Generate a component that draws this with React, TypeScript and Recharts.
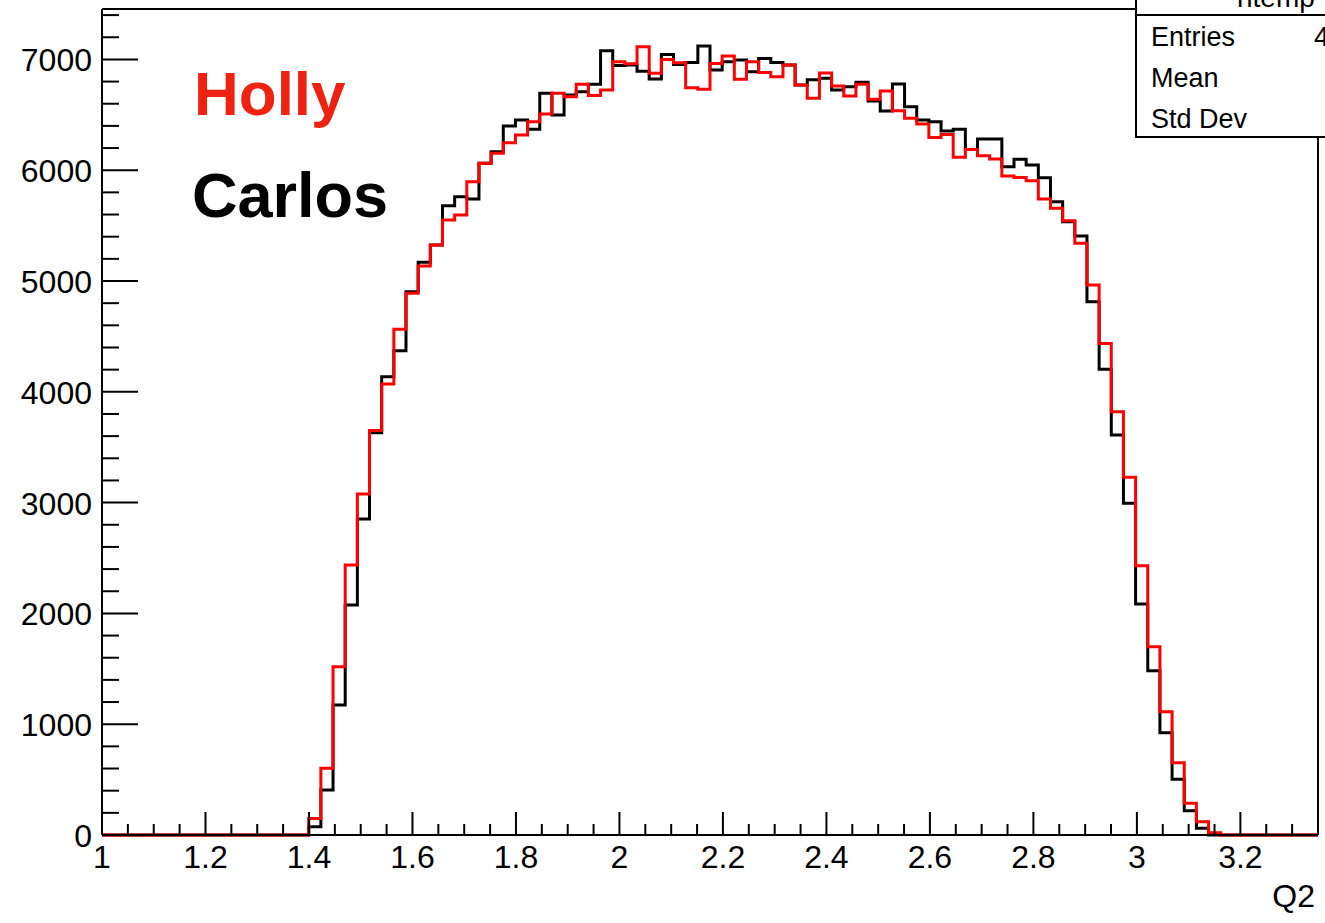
import { LineChart, Line, XAxis, YAxis, ReferenceLine } from "recharts";

// histogram binning (ROOT style: 100 bins over the x range)
const X_MIN = 1;
const X_MAX = 3.35;
const N_BINS = 100;
const Y_MAX = 7455;

// bin contents
const HOLLY = [
  0, 0, 0, 0, 0, 0, 0, 0, 0, 0, 0, 0, 0, 0, 0, 0, 0,
  150, 602, 1519, 2437, 3077, 3650, 4070, 4564, 4889, 5135, 5325,
  5550, 5595, 5896, 6062, 6152, 6248, 6317, 6437, 6507, 6694,
  6663, 6775, 6675, 6723, 6979, 6960, 7114, 6874, 7000, 6970,
  6744, 6730, 6964, 7030, 6820, 6979, 6883, 6844, 6949, 6768,
  6649, 6877, 6759, 6669, 6775, 6640, 6714, 6537, 6468, 6417,
  6296, 6323, 6116, 6188, 6131, 6101, 5947, 5935, 5905, 5740,
  5656, 5544, 5340, 4963, 4437, 3820, 3228, 2431, 1700, 1113,
  653, 286, 120, 21,
  0, 0, 0, 0, 0, 0, 0, 0,
];

const CARLOS = [
  0, 0, 0, 0, 0, 0, 0, 0, 0, 0, 0, 0, 0, 0, 0, 0, 0,
  75, 406, 1173, 2076, 2852, 3630, 4136, 4371, 4903, 5170, 5325,
  5680, 5761, 5740, 6062, 6167, 6399, 6453, 6369, 6694, 6498,
  6678, 6708, 6776, 7078, 6946, 6950, 6893, 6823, 7045, 6955,
  6973, 7120, 6904, 6979, 6994, 6889, 7009, 6973, 6949, 6770,
  6816, 6829, 6723, 6753, 6793, 6624, 6534, 6778, 6573, 6453,
  6437, 6353, 6369, 6188, 6281, 6281, 6031, 6098, 6046, 5932,
  5715, 5535, 5406, 4813, 4203, 3610, 2994, 2085, 1483, 923,
  503, 219, 60, 0,
  0, 0, 0, 0, 0, 0, 0, 0,
];

const X_MAJOR = [1, 1.2, 1.4, 1.6, 1.8, 2, 2.2, 2.4, 2.6, 2.8, 3, 3.2];
const X_MINOR_STEP = 0.05;
const Y_MAJOR = [0, 1000, 2000, 3000, 4000, 5000, 6000, 7000];
const Y_MINOR_STEP = 200;

const X_TITLE = "Q2";
const STATS_TITLE = "htemp";
const STATS_LABELS = ["Entries", "Mean", "Std Dev"];

const FONT = "'Liberation Sans', Arial, Helvetica, sans-serif";

const binWidth = (X_MAX - X_MIN) / N_BINS;

// one point per bin low edge, plus the upper edge of the last bin
const data = Array.from({ length: N_BINS + 1 }, (_, i) => ({
  x: i < N_BINS ? X_MIN + i * binWidth : X_MAX,
  holly: HOLLY[Math.min(i, N_BINS - 1)],
  carlos: CARLOS[Math.min(i, N_BINS - 1)],
}));

const xTicks: number[] = [];
for (let v = X_MIN; v < X_MAX - 1e-6; v += X_MINOR_STEP) xTicks.push(+v.toFixed(3));
const yTicks: number[] = [];
for (let v = 0; v < Y_MAX; v += Y_MINOR_STEP) yTicks.push(v);

const isXMajor = (v: number) => X_MAJOR.some((m) => Math.abs(m - v) < 1e-6);
const isYMajor = (v: number) => Y_MAJOR.includes(v);

const XTick = (props: any) => {
  const { x, y, payload } = props;
  const major = isXMajor(payload.value);
  return (
    <g>
      <line x1={x} x2={x} y1={y} y2={y - (major ? 23 : 11)} stroke="#000" strokeWidth={2} />
      {major && (
        <text x={x} y={y + 33} textAnchor="middle" fontFamily={FONT} fontSize={32} fill="#000">
          {String(payload.value)}
        </text>
      )}
    </g>
  );
};

const YTick = (props: any) => {
  const { x, y, payload } = props;
  const major = isYMajor(payload.value);
  return (
    <g>
      <line x1={x} x2={x + (major ? 36 : 17)} y1={y} y2={y} stroke="#000" strokeWidth={2} />
      {major && (
        <text x={x - 10} y={y + 12} textAnchor="end" fontFamily={FONT} fontSize={32} fill="#000">
          {String(payload.value)}
        </text>
      )}
    </g>
  );
};

export default function App() {
  return (
    <div style={{ position: "absolute", left: 0, top: 0, width: 1325, height: 923, background: "#fff" }}>
      <LineChart
        width={1325}
        height={923}
        data={data}
        margin={{ top: 9, right: 7, bottom: 0, left: 0 }}
      >
        <XAxis
          dataKey="x"
          type="number"
          domain={[X_MIN, X_MAX]}
          ticks={xTicks}
          interval={0}
          tick={<XTick />}
          tickLine={false}
          tickSize={0}
          tickMargin={0}
          height={88}
          axisLine={{ stroke: "#000", strokeWidth: 2 }}
        />
        <YAxis
          type="number"
          domain={[0, Y_MAX]}
          ticks={yTicks}
          interval={0}
          tick={<YTick />}
          tickLine={false}
          tickSize={0}
          tickMargin={0}
          width={102}
          axisLine={{ stroke: "#000", strokeWidth: 2 }}
        />
        <ReferenceLine y={Y_MAX} stroke="#000" strokeWidth={2} ifOverflow="visible" />
        <ReferenceLine x={X_MAX} stroke="#000" strokeWidth={2} ifOverflow="visible" />
        <Line
          type="stepAfter"
          dataKey="carlos"
          stroke="#000"
          strokeWidth={3}
          dot={false}
          isAnimationActive={false}
        />
        <Line
          type="stepAfter"
          dataKey="holly"
          stroke="#ff0000"
          strokeWidth={3}
          dot={false}
          isAnimationActive={false}
        />
      </LineChart>
      <svg
        width={1325}
        height={923}
        style={{ position: "absolute", left: 0, top: 0, pointerEvents: "none" }}
      >
        <text x={194} y={115} fontFamily={FONT} fontWeight="bold" fontSize={62} fill="#ee2211">
          Holly
        </text>
        <text x={192} y={217} fontFamily={FONT} fontWeight="bold" fontSize={63} fill="#000">
          Carlos
        </text>
        <text x={1315} y={907} textAnchor="end" fontFamily={FONT} fontSize={32} fill="#000">
          {X_TITLE}
        </text>
        <rect x={1136} y={-4} width={220} height={141} fill="#fff" stroke="#000" strokeWidth={2} />
        <line x1={1136} x2={1325} y1={15} y2={15} stroke="#000" strokeWidth={2} />
        <text x={1237} y={7} fontFamily={FONT} fontSize={28} fill="#000">
          {STATS_TITLE}
        </text>
        {STATS_LABELS.map((label, i) => (
          <text key={label} x={1151} y={46 + i * 41} fontFamily={FONT} fontSize={27} fill="#000">
            {label}
          </text>
        ))}
        <text x={1314} y={46} fontFamily={FONT} fontSize={27} fill="#000">
          4
        </text>
      </svg>
    </div>
  );
}
